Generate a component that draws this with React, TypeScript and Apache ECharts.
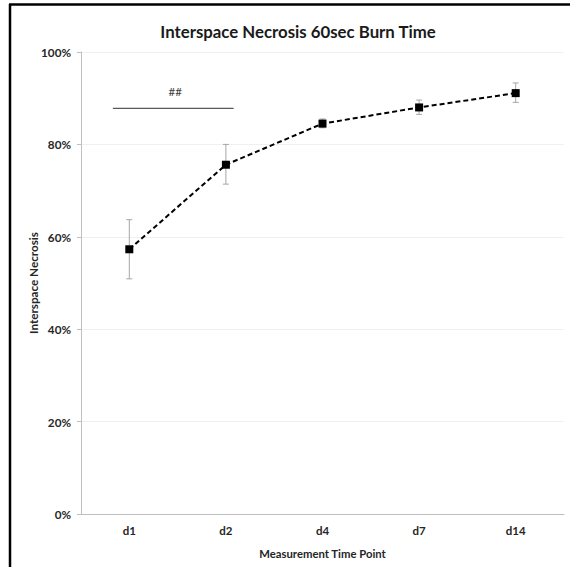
import React, { useEffect, useRef } from "react";
import * as echarts from "echarts";

const categories = ["d1", "d2", "d4", "d7", "d14"];
const meanValues = [57.3, 75.6, 84.5, 88.0, 91.1];
const lowerValues = [50.9, 71.4, 83.6, 86.5, 89.1];
const upperValues = [63.7, 80.0, 85.5, 89.6, 93.3];
const yTicks = [0, 20, 40, 60, 80, 100];
const annotationText = "##";
const annotationLevel = 87.8;
const annotationTextLevel = 91.4;

const FONT = "Lato, 'Open Sans', sans-serif";

export default function App() {
  const ref = useRef<HTMLDivElement>(null);
  useEffect(() => {
    if (!ref.current) return;
    const chart = echarts.init(ref.current, undefined, { renderer: "svg" });
    const errData = categories.map((_, i) => [i, lowerValues[i], upperValues[i]]);
    chart.setOption({
      animation: false,
      backgroundColor: "#ffffff",
      title: {
        text: "Interspace Necrosis 60sec Burn Time",
        left: 293,
        top: 18,
        textAlign: "center",
        textStyle: { fontFamily: FONT, fontWeight: "bold", fontSize: 16.8, color: "#1a1a1a" },
      },
      grid: { left: 81, right: 6, top: 52, bottom: 53 },
      xAxis: {
        type: "category",
        data: categories,
        boundaryGap: true,
        name: "Measurement Time Point",
        nameLocation: "middle",
        nameGap: 34,
        nameMoveOverlap: false,
        nameTextStyle: { fontFamily: FONT, fontWeight: "bold", fontSize: 11.3, color: "#262626" },
        axisLine: { lineStyle: { color: "#bfbfbf", width: 1 } },
        axisTick: { alignWithLabel: true, length: 4, lineStyle: { color: "#bfbfbf" } },
        axisLabel: { fontFamily: FONT, fontWeight: "bold", fontSize: 11.5, color: "#262626", margin: 10 },
        splitLine: { show: false },
      },
      yAxis: {
        type: "value",
        min: yTicks[0],
        max: yTicks[yTicks.length - 1],
        interval: yTicks[1] - yTicks[0],
        name: "Interspace Necrosis",
        nameLocation: "middle",
        nameGap: 42,
        nameMoveOverlap: false,
        nameTextStyle: { fontFamily: FONT, fontWeight: "bold", fontSize: 11.7, color: "#262626" },
        axisLine: { show: true, lineStyle: { color: "#bfbfbf", width: 1 } },
        axisTick: { show: true, length: 4, lineStyle: { color: "#bfbfbf" } },
        axisLabel: { formatter: "{value}%", fontFamily: FONT, fontWeight: "bold", fontSize: 11.7, color: "#262626", margin: 10 },
        splitLine: { lineStyle: { color: "#f0f0f0", width: 1 } },
      },
      series: [
        {
          type: "custom",
          z: 1,
          data: errData,
          renderItem: (params: any, api: any) => {
            const x = api.value(0);
            const lo = api.coord([x, api.value(1)]);
            const hi = api.coord([x, api.value(2)]);
            const cap = 3;
            const style = { stroke: "#a6a6a6", lineWidth: 1 };
            return {
              type: "group",
              children: [
                { type: "line", shape: { x1: lo[0], y1: lo[1], x2: hi[0], y2: hi[1] }, style },
                { type: "line", shape: { x1: lo[0] - cap, y1: lo[1], x2: lo[0] + cap, y2: lo[1] }, style },
                { type: "line", shape: { x1: hi[0] - cap, y1: hi[1], x2: hi[0] + cap, y2: hi[1] }, style },
              ],
            };
          },
        },
        {
          type: "line",
          z: 3,
          data: meanValues,
          symbol: "rect",
          symbolSize: 8,
          itemStyle: { color: "#000000" },
          lineStyle: { color: "#000000", width: 2, type: [5, 3] },
        },
      ],
    });

    const p1 = chart.convertToPixel({ xAxisIndex: 0 }, categories[0]) as number;
    const p2 = chart.convertToPixel({ xAxisIndex: 0 }, categories[1]) as number;
    const band = p2 - p1;
    const yLine = chart.convertToPixel({ yAxisIndex: 0 }, annotationLevel) as number;
    const yText = chart.convertToPixel({ yAxisIndex: 0 }, annotationTextLevel) as number;
    chart.setOption({
      graphic: [
        { type: "line", shape: { x1: 10, y1: 4, x2: 10, y2: 567 }, style: { stroke: "#000", lineWidth: 2.5 } },
        { type: "line", shape: { x1: 9, y1: 4.5, x2: 570, y2: 4.5 }, style: { stroke: "#000", lineWidth: 2.5 } },
        {
          type: "line",
          shape: { x1: p1 - band * 0.17, y1: yLine, x2: p2 + band * 0.08, y2: yLine },
          style: { stroke: "#595959", lineWidth: 1.2 },
        },
        {
          type: "text",
          x: (p1 - band * 0.17 + p2 + band * 0.08) / 2 + 2,
          y: yText,
          style: {
            text: annotationText,
            fontFamily: FONT,
            fontSize: 11.5,
            fill: "#404040",
            align: "center",
            verticalAlign: "middle",
          },
        },
      ],
    });
    return () => chart.dispose();
  }, []);
  return <div ref={ref} style={{ position: "fixed", left: 0, top: 0, width: 570, height: 567 }} />;
}
